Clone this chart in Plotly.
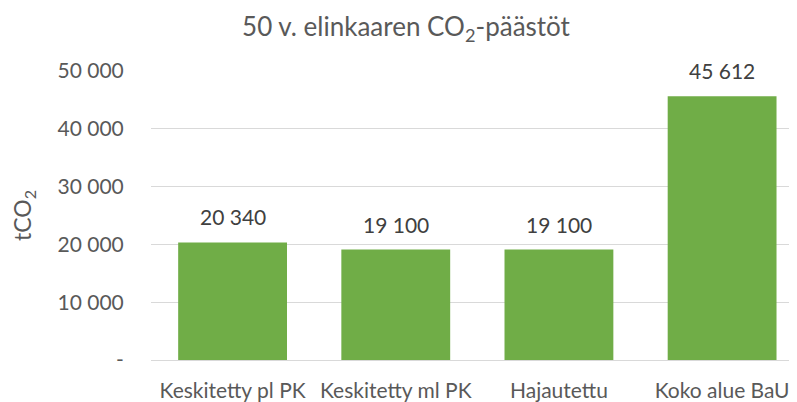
import plotly.graph_objects as go

categories = ["Keskitetty pl PK", "Keskitetty ml PK", "Hajautettu", "Koko alue BaU"]
values = [20340, 19100, 19100, 45612]
value_labels = ["20 340", "19 100", "19 100", "45 612"]
tick_vals = [0, 10000, 20000, 30000, 40000, 50000]
tick_text = ["-", "10 000", "20 000", "30 000", "40 000", "50 000"]

FONT = "Lato, Carlito, Calibri, sans-serif"
GREEN = "#70AD47"
GRID = "#D9D9D9"
TXT = "#595959"
LBL = "#404040"

# the page body has an 8px margin; the figure is sized to fill the rest of the window
OFF = 8
W, H = 797 - OFF, 402 - OFF

fig = go.Figure()
fig.add_trace(go.Bar(
    x=list(range(len(categories))), y=values,
    marker=dict(color=GREEN, line=dict(width=0)),
    width=0.667,
    hoverinfo="skip",
))

for i, (v, lab) in enumerate(zip(values, value_labels)):
    fig.add_annotation(x=i, y=v, text=lab, showarrow=False, xref="x", yref="y",
                       yanchor="bottom", yshift=11,
                       font=dict(family=FONT, size=21, color=LBL))

fig.update_layout(
    width=W, height=H,
    margin=dict(l=151 - OFF, r=0, t=71 - OFF, b=42),
    paper_bgcolor="white", plot_bgcolor="white",
    showlegend=False,
    font=dict(family=FONT, color=TXT),
    title=dict(text="50 v. elinkaaren CO<sub>2</sub>-päästöt", xref="container", x=(406 - OFF) / W,
               xanchor="center", yref="container", y=1 - (27 - OFF) / H, yanchor="middle",
               font=dict(family=FONT, size=26, color=TXT)),
    xaxis=dict(range=[-0.5, 3.459], tickvals=list(range(len(categories))), ticktext=categories,
               showgrid=False, zeroline=False, showline=True, linecolor=GRID, linewidth=1,
               ticks="outside", ticklen=12, tickcolor="rgba(0,0,0,0)", automargin=False,
               tickfont=dict(family=FONT, size=21, color=TXT), fixedrange=True),
    yaxis=dict(range=[0, 50000], tickvals=tick_vals, ticktext=tick_text,
               showgrid=True, gridcolor=GRID, gridwidth=1, zeroline=False, showline=False,
               ticks="outside", ticklen=22, tickcolor="rgba(0,0,0,0)", automargin=False,
               tickfont=dict(family=FONT, size=21, color=TXT),
               title=dict(text="tCO<sub>2</sub>", standoff=19,
                          font=dict(family=FONT, size=23, color=TXT)),
               fixedrange=True),
)

fig.write_html("out.html")
